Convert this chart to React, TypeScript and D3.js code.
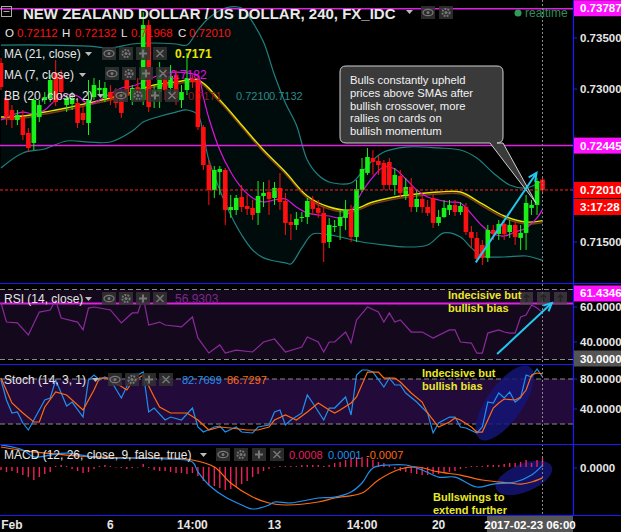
import React from 'react';
import * as d3 from 'd3';

// ---------- candle data (240-min NZD/USD) ----------
const opens = [0.73255,0.72912,0.72794,0.72696,0.72725,0.72569,0.72471,0.72725,0.72892,0.72912,
0.73157,0.73137,0.72843,0.72853,0.72863,0.72765,0.72667,0.72921,0.72990,0.72912,
0.72970,0.72970,0.72912,0.73088,0.72892,0.73019,0.72892,0.73627,0.72921,0.72970,
0.73117,0.73010,0.73137,0.72892,0.72990,0.73098,0.73088,0.72627,0.72255,0.72010,
0.72186,0.72206,0.71814,0.71814,0.71941,0.71853,0.71834,0.71785,0.71951,0.71990,
0.71932,0.72030,0.71902,0.71696,0.71667,0.71736,0.71745,0.71902,0.71834,0.71785,
0.71500,0.71647,0.71657,0.71736,0.71814,0.71549,0.72010,0.72177,0.72324,0.72294,
0.72275,0.72284,0.72059,0.72147,0.71961,0.72039,0.71843,0.71922,0.71843,0.71932,
0.71687,0.71745,0.71814,0.71863,0.71794,0.71843,0.71598,0.71540,0.71471,0.71344,
0.71618,0.71579,0.71677,0.71598,0.71667,0.71540,0.71589,0.71834,0.71863,0.72112];
const highs = [0.73304,0.72990,0.72843,0.72794,0.72794,0.72618,0.72912,0.72892,0.72970,0.73137,
0.73284,0.73186,0.72941,0.72970,0.72912,0.72843,0.73088,0.73108,0.73088,0.73068,
0.73039,0.73010,0.72990,0.73137,0.73039,0.73108,0.73754,0.73676,0.73039,0.73264,
0.73206,0.73235,0.73186,0.73039,0.73353,0.73137,0.73117,0.72647,0.72304,0.72245,
0.72245,0.72226,0.71961,0.71961,0.72059,0.71961,0.71912,0.72098,0.72088,0.72108,
0.72088,0.72177,0.71981,0.71775,0.71794,0.71794,0.71932,0.71951,0.71912,0.71853,
0.71736,0.71716,0.71814,0.71912,0.71863,0.72108,0.72324,0.72422,0.72402,0.72343,
0.72304,0.72324,0.72226,0.72206,0.72128,0.72128,0.72010,0.71961,0.71912,0.71961,
0.71814,0.71912,0.71912,0.71912,0.71892,0.71883,0.71657,0.71598,0.71520,0.71667,
0.71667,0.71716,0.71716,0.71716,0.71696,0.71667,0.71961,0.71912,0.72128,0.72132];
const lows = [0.72990,0.72647,0.72618,0.72647,0.72500,0.72382,0.72402,0.72676,0.72853,0.72872,
0.72833,0.72912,0.72774,0.72794,0.72618,0.72647,0.72549,0.72892,0.72941,0.72872,
0.72843,0.72814,0.72716,0.72892,0.72843,0.72912,0.72843,0.72774,0.72814,0.72814,
0.72892,0.72941,0.72843,0.72814,0.72941,0.73010,0.72598,0.72206,0.71863,0.71932,
0.71961,0.71667,0.71736,0.71765,0.71794,0.71765,0.71716,0.71667,0.71843,0.71765,
0.71863,0.71814,0.71569,0.71520,0.71618,0.71696,0.71677,0.71765,0.71736,0.71304,
0.71442,0.71598,0.71520,0.71618,0.71500,0.71500,0.71990,0.72157,0.72157,0.72157,
0.72010,0.72010,0.71961,0.71932,0.71912,0.71794,0.71794,0.71785,0.71755,0.71638,
0.71657,0.71736,0.71765,0.71755,0.71765,0.71569,0.71442,0.71304,0.71275,0.71304,
0.71520,0.71520,0.71520,0.71540,0.71471,0.71422,0.71422,0.71765,0.71765,0.71968];
const closes = [0.73019,0.72725,0.72696,0.72745,0.72549,0.72422,0.72892,0.72843,0.72921,0.73088,
0.72872,0.72970,0.72912,0.72912,0.72667,0.72696,0.72892,0.73039,0.73010,0.73010,
0.72912,0.72863,0.72765,0.72941,0.73010,0.72961,0.73627,0.72823,0.72990,0.73137,
0.72990,0.73127,0.72912,0.72970,0.73108,0.73068,0.72627,0.72255,0.72010,0.72206,
0.72216,0.71814,0.71843,0.71932,0.71843,0.71824,0.71765,0.71951,0.71981,0.71922,
0.72030,0.71892,0.71687,0.71667,0.71726,0.71745,0.71902,0.71824,0.71785,0.71491,
0.71667,0.71657,0.71745,0.71814,0.71549,0.72020,0.72216,0.72333,0.72284,0.72255,
0.72059,0.72059,0.72157,0.71981,0.72039,0.71843,0.71922,0.71843,0.71785,0.71687,
0.71745,0.71834,0.71863,0.71794,0.71853,0.71598,0.71540,0.71334,0.71344,0.71618,
0.71579,0.71677,0.71579,0.71667,0.71549,0.71589,0.71883,0.71863,0.72098,0.72010];

// ---------- overlays (candle index, value) ----------
const ma21Idx = [0,4,8,12,16,20,24,28,32,36,40,44,48,52,56,60,64,68,72,76,80,84,88,92,96,99];
const ma21Val = [0.72725,0.72735,0.72774,0.72814,0.72863,0.72912,0.72970,0.73039,0.73068,0.73088,0.72892,0.72647,0.72402,0.72186,0.71951,0.71843,0.71814,0.71892,0.71941,0.71971,0.71990,0.71990,0.71873,0.71755,0.71696,0.71710];
const ma7Idx = [0,2,4,6,8,10,12,14,16,18,20,22,24,26,28,30,32,34,36,37,38,40,42,44,46,48,50,52,54,56,58,60,62,64,66,68,70,72,74,76,78,80,82,84,86,88,90,92,94,96,98,99];
const ma7Val = [0.72696,0.72745,0.72774,0.72755,0.72794,0.72892,0.72941,0.72931,0.72853,0.72892,0.72951,0.73010,0.73029,0.73068,0.73117,0.73157,0.73166,0.73157,0.73127,0.72921,0.72716,0.72402,0.72186,0.72030,0.71932,0.71892,0.71912,0.71922,0.71843,0.71785,0.71765,0.71755,0.71736,0.71804,0.71990,0.72137,0.72235,0.72216,0.72118,0.72010,0.71941,0.71912,0.71892,0.71883,0.71775,0.71657,0.71579,0.71559,0.71598,0.71638,0.71736,0.71820];
const bbUpIdx = [0,8,16,20,24,28,32,34,36,38,41,44,46,48,50,52,54,56,58,60,64,66,68,70,74,80,84,87,90,93,96,99];
const bbUpVal = [0.73431,0.73431,0.73421,0.73402,0.73441,0.73451,0.73441,0.73431,0.73578,0.73696,0.73794,0.73794,0.73656,0.73460,0.73137,0.72863,0.72647,0.72304,0.72157,0.72088,0.72079,0.72186,0.72304,0.72382,0.72431,0.72422,0.72402,0.72324,0.72177,0.72059,0.72030,0.72100];
const bbLoIdx = [0,4,8,12,16,20,24,26,28,32,34,36,37,38,40,42,44,46,48,50,52,53,55,57,60,62,66,70,74,78,81,84,86,88,92,96,99];
const bbLoVal = [0.72226,0.72373,0.72412,0.72490,0.72480,0.72480,0.72588,0.72676,0.72716,0.72774,0.72794,0.72745,0.72549,0.72304,0.72010,0.71765,0.71569,0.71422,0.71344,0.71314,0.71295,0.71285,0.71442,0.71579,0.71569,0.71549,0.71500,0.71471,0.71451,0.71471,0.71589,0.71549,0.71442,0.71363,0.71353,0.71363,0.71320];

// ---------- RSI (14) ----------
const rsiIdx = [0,1,3,5,7,9,10,11,14,15,16,17,20,22,24,25,26,27,29,30,33,35,36,38,40,41,43,46,48,50,52,55,56,58,59,60,61,63,64,65,67,69,70,71,72,73,75,77,79,82,83,84,86,87,88,89,91,92,93,94,95,96,97,98,99];
const rsiVal = [62.3,51.4,50.9,44.0,57.1,58.3,64.0,53.7,51.4,46.9,59.4,60.0,58.3,50.9,56.6,56.6,65.7,49.7,51.4,49.7,48.6,54.3,42.3,33.7,38.3,33.7,35.4,34.3,40.0,41.7,34.3,37.1,42.9,40.0,34.3,40.0,40.0,45.7,39.4,52.6,60.0,57.1,51.4,56.6,51.4,52.6,45.7,45.7,42.3,46.9,46.9,40.0,39.4,33.7,33.7,45.1,46.9,45.7,45.1,45.1,54.3,55.4,61.1,59.4,56.93];

// ---------- Stochastic (14,3,1) ----------
const stochKIdx = [0,1,2,3,4,5,6,8,9,10,11,12,13,15,16,17,18,19,20,22,24,25,26,27,28,30,31,33,35,36,37,39,40,41,43,44,46,47,49,50,51,52,53,55,56,57,59,60,61,63,64,65,66,67,68,70,71,72,73,74,76,78,79,80,82,83,84,85,87,88,89,90,91,92,93,94,95,96,97,98,99];
const stochKVal = [78.7,52,34.7,36,21.3,12,25.3,52,54.7,78.7,61.3,44,49.3,29.3,78.7,85.3,78.7,82.7,78.7,54.7,85.3,85.3,89.3,36,41.3,25.3,29.3,25.3,41.3,16,9.3,16,17.3,9.3,16,9.3,8,16,18.7,36,38.7,18.7,25.3,34.7,58.7,48,25.3,41.3,41.3,56,32,85.3,92,92,89.3,69.3,81.3,72,72,61.3,49.3,34.7,8,21.3,29.3,29.3,16,14.7,8,16,49.3,48,61.3,54.7,62.7,49.3,54.7,85.3,82.7,93.3,82.77];
const stochDIdx = [0,2,4,6,7,8,10,12,14,15,17,18,20,21,23,24,26,28,29,31,34,36,38,40,42,45,47,49,50,52,54,56,58,60,61,62,64,65,67,69,70,72,73,75,77,78,80,82,83,84,86,87,88,89,90,91,92,94,95,96,97,98,99];
const stochDVal = [81.3,48,34.7,22.7,22.7,42.7,62.7,58.7,45.3,38.7,65.3,81.3,81.3,74.7,65.3,76,85.3,56,42.7,34.7,34.7,25.3,12,16,14.7,12,12,16,25.3,32,25.3,36,48,38.7,34.7,38.7,48,56,89.3,89.3,81.3,81.3,76,61.3,49.3,34.7,16,22.7,28,25.3,16,9.3,9.3,25.3,41.3,48,53.3,52,56,65.3,85.3,88,86.73];

// ---------- MACD (12,26,9) ----------
const macdHist = [-0.00019,-0.00032,-0.00026,-0.00039,-0.00052,-0.00065,-0.00084,-0.00065,-0.00045,-0.00032,
0.00006,0.00013,0.00006,-0.00013,-0.00026,-0.00039,-0.00032,-0.00013,0.00006,0.00013,
0.00006,-0.00003,-0.00006,-0.00013,-0.00006,-0.00003,0.00019,-0.00006,-0.00019,-0.00026,
-0.00026,-0.00032,-0.00039,-0.00039,-0.00045,-0.00039,-0.00058,-0.0009,-0.00116,-0.00123,
-0.00135,-0.00148,-0.00142,-0.00129,-0.0011,-0.0009,-0.00065,-0.00045,-0.00026,-0.00013,
-0.00003,0.00006,0.00006,0.00006,0.00006,0.00013,0.00013,0.00013,0.00013,0.00006,
0.00013,0.00026,0.00032,0.00045,0.00058,0.00065,0.00065,0.00058,0.00045,0.00032,
0.00026,0.00013,-0.00013,-0.00026,-0.00032,-0.00039,-0.00045,-0.00052,-0.00052,-0.00045,
-0.00045,-0.00039,-0.00032,-0.00026,-0.00013,-0.00006,0.00006,0.00006,0.00006,0.00013,
0.00013,0.00013,0.00019,0.00026,0.00026,0.00032,0.00045,0.00026,0.00045,0.0006];
const macdIdx = [0,4,6,9,12,18,24,30,35,36,38,41,44,46,49,50,53,56,58,61,64,66,68,71,74,77,80,83,87,90,94,97,99];
const macdVal = [0.00142,0.0011,0.00065,0.00077,0.0009,0.00058,0.00058,0.00052,0.00032,-0.00032,-0.00116,-0.00194,-0.00245,-0.00271,-0.00245,-0.00226,-0.00232,-0.00213,-0.002,-0.00194,-0.00161,-0.00103,-0.00006,0.00013,0.00013,-0.00019,-0.00065,-0.00065,-0.00129,-0.0011,-0.00097,-0.00052,0.0001];
const signalIdx = [0,6,12,18,24,30,35,39,42,46,49,52,58,61,66,69,73,76,80,84,88,93,95,97,99];
const signalVal = [0.00129,0.00097,0.00077,0.00065,0.00058,0.00058,0.00045,0,-0.00103,-0.00194,-0.00232,-0.00245,-0.00226,-0.002,-0.00168,-0.00084,-0.00013,0,-0.00032,-0.00052,-0.00084,-0.00103,-0.0011,-0.00097,-0.0007];

// ---------- axes ----------
const priceTicks = [0.735, 0.73, 0.715];
const rsiTicks = [60, 40];
const stochTicks = [80, 40];
const macdTicks = [0];
const timeIdx = [2, 20, 35, 50, 66, 80];
const timeLabels = ['Feb', '6', '14:00', '13', '14:00', '20'];
const lastTimeLabel = '2017-02-23 06:00';
const levelLines = [0.73787, 0.72445];
const rsiLevel = 61.4346;

const calloutLines = ['Bulls constantly upheld', 'prices above SMAs after', 'bullish crossover, more', 'rallies on cards on', 'bullish momentum'];

const FONT = 'Liberation Sans, Arial, sans-serif';
const GREEN = '#18f018';
const RED = '#ff1010';
const BLUE_SEP = '#1a1aff';

const Icon = ({ x, y, kind }: { x: number; y: number; kind: string }) => (
  <g transform={`translate(${x},${y})`}>
    <rect width={14} height={13} fill="#333" opacity={0.85} />
    {kind === 'eye' && (<><ellipse cx={7} cy={6.5} rx={5} ry={3.2} fill="none" stroke="#777" strokeWidth={1.3} /><circle cx={7} cy={6.5} r={1.5} fill="#777" /></>)}
    {kind === 'gear' && (<><circle cx={7} cy={6.5} r={3.6} fill="none" stroke="#777" strokeWidth={2} strokeDasharray="1.8 1.2" /><circle cx={7} cy={6.5} r={1.6} fill="#777" /></>)}
    {kind === 'plus' && <path d="M7 2.5V10.5M3 6.5H11" stroke="#777" strokeWidth={2} />}
    {kind === 'x' && <path d="M3.5 3L10.5 10M10.5 3L3.5 10" stroke="#777" strokeWidth={1.5} />}
  </g>
);

const Caret = ({ x, y }: { x: number; y: number }) => (
  <path d={`M${x} ${y}L${x + 7} ${y}L${x + 3.5} ${y + 4}Z`} fill="#bbb" />
);

export default function App() {
  const n = closes.length;
  const x = d3.scaleLinear().domain([0, n - 1]).range([1, 542.5]);
  const yP = d3.scaleLinear().domain([0.715, 0.735]).range([242, 38]);
  const yR = d3.scaleLinear().domain([40, 60]).range([342, 307]);
  const yS = d3.scaleLinear().domain([20, 80]).range([424, 379]);
  const yM = d3.scaleLinear().domain([0, 0.001]).range([467, 451.5]);

  const smooth = (idx: number[], vals: number[], ys: (v: number) => number) =>
    d3.line<number>().x((_, i) => x(idx[i])).y((v) => ys(v)).curve(d3.curveCatmullRom.alpha(0.5))(vals) || '';
  const straight = (idx: number[], vals: number[], ys: (v: number) => number) =>
    d3.line<number>().x((_, i) => x(idx[i])).y((v) => ys(v))(vals) || '';

  const upPath = smooth(bbUpIdx, bbUpVal, yP);
  const loPts: [number, number][] = bbLoIdx.map((k, i) => [x(k), yP(bbLoVal[i])] as [number, number]).reverse();
  const loRev = d3.line().curve(d3.curveCatmullRom.alpha(0.5))(loPts) || '';
  const bbFill = upPath + 'L' + loRev.slice(1) + 'Z';

  const lastX = x(n - 1);
  const cur = closes[n - 1];

  const axisLabel = (y: number, txt: string, key: string) => (
    <g key={key}>
      <line x1={573} x2={577} y1={y} y2={y} stroke={BLUE_SEP} />
      <text x={580} y={y + 4} fill="#e6e6e6" fontSize={11.5} fontWeight="bold">{txt}</text>
    </g>
  );
  const boxLabel = (y: number, txt: string, fill: string, key: string) => (
    <g key={key}>
      <rect x={574} y={y - 8} width={47} height={16} fill={fill} />
      <text x={580} y={y + 4} fill="#fff" fontSize={11.5} fontWeight="bold">{txt}</text>
    </g>
  );

  // annotation anchors (data coords)
  const arrowMain = { x1: x(86.8), y1: yP(0.7130), x2: x(97.9), y2: yP(0.72177) };
  const arrowRsi = { x1: x(90.7), y1: yR(33.1), x2: x(100.7), y2: yR(62.3) };
  const arrowHead = (a: { x1: number; y1: number; x2: number; y2: number }) => {
    const ang = Math.atan2(a.y2 - a.y1, a.x2 - a.x1);
    const L = 9;
    const p1 = [a.x2 - L * Math.cos(ang - 0.45), a.y2 - L * Math.sin(ang - 0.45)];
    const p2 = [a.x2 - L * Math.cos(ang + 0.45), a.y2 - L * Math.sin(ang + 0.45)];
    return `M${p1[0]},${p1[1]}L${a.x2},${a.y2}L${p2[0]},${p2[1]}`;
  };

  return (
    <svg width={621} height={532} style={{ position: 'fixed', left: 0, top: 0, background: '#000' }} fontFamily={FONT}>
      <defs>
        <clipPath id="cMain"><rect x={0} y={0} width={573} height={283} /></clipPath>
        <clipPath id="cRsi"><rect x={0} y={284} width={573} height={80} /></clipPath>
        <clipPath id="cSto"><rect x={0} y={365} width={573} height={79} /></clipPath>
        <clipPath id="cMacd"><rect x={0} y={445} width={573} height={70} /></clipPath>
      </defs>
      <rect width={621} height={532} fill="#000" />

      {/* ===== MAIN PANE ===== */}
      <g clipPath="url(#cMain)">
        <path d={bbFill} fill="rgba(0,150,150,0.08)" />
        <path d={upPath} fill="none" stroke="#1f8080" strokeWidth={1.2} />
        <path d={smooth(bbLoIdx, bbLoVal, yP)} fill="none" stroke="#1f8080" strokeWidth={1.2} />
        {levelLines.map((v) => (
          <line key={v} x1={0} x2={573} y1={yP(v)} y2={yP(v)} stroke="#e020e0" strokeWidth={1.5} />
        ))}
        <path d={smooth(ma21Idx, ma21Val, yP)} fill="none" stroke="#7a3a1a" strokeWidth={1.6} transform="translate(0,2)" />
        <path d={smooth(ma21Idx, ma21Val, yP)} fill="none" stroke="#e6e600" strokeWidth={1.4} />
        <path d={smooth(ma7Idx, ma7Val, yP)} fill="none" stroke="#e010e0" strokeWidth={1.2} />
        {closes.map((c, i) => {
          const o = opens[i];
          const up = c >= o;
          const col = up ? GREEN : RED;
          const yTop = yP(Math.max(o, c));
          const yBot = yP(Math.min(o, c));
          return (
            <g key={i}>
              <line x1={x(i)} x2={x(i)} y1={yP(highs[i])} y2={yP(lows[i])} stroke={col} strokeWidth={1} />
              <rect x={x(i) - 2.3} y={yTop} width={4.6} height={Math.max(1, yBot - yTop)} fill={col} />
            </g>
          );
        })}
        <line x1={0} x2={573} y1={yP(cur)} y2={yP(cur)} stroke="#ff2020" strokeDasharray="3 2" />
      </g>

      {/* ===== RSI PANE ===== */}
      <g clipPath="url(#cRsi)">
        <rect x={0} y={yR(70)} width={573} height={yR(30) - yR(70)} fill="#14091c" />
        <line x1={0} x2={573} y1={yR(70)} y2={yR(70)} stroke="#8a8a8a" strokeDasharray="5 3" />
        <line x1={0} x2={573} y1={yR(30)} y2={yR(30)} stroke="#8a8a8a" strokeDasharray="5 3" />
        <line x1={0} x2={573} y1={yR(rsiLevel) - 1} y2={yR(rsiLevel) - 1} stroke="#e020e0" strokeWidth={2} />
        <path d={straight(rsiIdx, rsiVal, yR)} fill="none" stroke="#8a2a9c" strokeWidth={1.2} />
      </g>

      {/* ===== STOCH PANE ===== */}
      <g clipPath="url(#cSto)">
        <rect x={0} y={yS(80)} width={573} height={yS(20) - yS(80)} fill="#220b3a" />
        <line x1={0} x2={573} y1={yS(80)} y2={yS(80)} stroke="#8a8a8a" strokeDasharray="5 3" />
        <line x1={0} x2={573} y1={yS(20)} y2={yS(20)} stroke="#8a8a8a" strokeDasharray="5 3" />
        <ellipse cx={x(92.1)} cy={yS(48)} rx={44} ry={18} transform={`rotate(-55 ${x(92.1)} ${yS(48)})`} fill="#151575" opacity={0.85} />
        <path d={straight(stochKIdx, stochKVal, yS)} fill="none" stroke="#2090f0" strokeWidth={1.2} />
        <path d={straight(stochDIdx, stochDVal, yS)} fill="none" stroke="#ff6a10" strokeWidth={1.2} />
      </g>

      {/* ===== MACD PANE ===== */}
      <g clipPath="url(#cMacd)">
        <ellipse cx={x(95.6)} cy={yM(-0.0007)} rx={30} ry={14} transform={`rotate(-22 ${x(95.6)} ${yM(-0.0007)})`} fill="#151575" opacity={0.85} />
        {macdHist.map((v, i) => (
          <line key={i} x1={x(i)} x2={x(i)} y1={yM(0)} y2={yM(v)} stroke="#f0205a" strokeWidth={1.4} />
        ))}
        <path d={smooth(signalIdx, signalVal, yM)} fill="none" stroke="#ff6a10" strokeWidth={1.2} />
        <path d={smooth(macdIdx, macdVal, yM)} fill="none" stroke="#2090f0" strokeWidth={1.2} />
      </g>

      {/* dotted last-bar marker */}
      <line x1={lastX} x2={lastX} y1={0} y2={516} stroke="#8a8a8a" strokeDasharray="2 2" />

      {/* pane separators */}
      {[283.5, 364.5, 444.5, 515.5].map((y) => (
        <line key={y} x1={0} x2={621} y1={y} y2={y} stroke={BLUE_SEP} strokeWidth={1.2} />
      ))}
      <line x1={573.5} x2={573.5} y1={0} y2={516} stroke={BLUE_SEP} strokeWidth={1.2} />

      {/* ===== right axis ===== */}
      {priceTicks.map((v) => axisLabel(yP(v), v.toFixed(5), 'p' + v))}
      {boxLabel(yP(levelLines[0]) - 0.5, levelLines[0].toFixed(5), '#ff10ff', 'l0')}
      {boxLabel(yP(levelLines[1]), levelLines[1].toFixed(5), '#ff10ff', 'l1')}
      {boxLabel(yP(cur), cur.toFixed(5), '#ff0000', 'cur')}
      {boxLabel(yP(cur) + 17, '3:17:28', '#ff0000', 'cd')}
      {rsiTicks.map((v) => axisLabel(yR(v), v.toFixed(4), 'r' + v))}
      {boxLabel(yR(rsiLevel) - 11, rsiLevel.toFixed(4), '#ff10ff', 'rl')}
      {boxLabel(yR(30) - 1, (30).toFixed(4), '#555', 'r30')}
      {stochTicks.map((v) => axisLabel(yS(v), v.toFixed(4), 's' + v))}
      {macdTicks.map((v) => axisLabel(yM(v) + 1, v.toFixed(4), 'm' + v))}

      {/* ===== time axis ===== */}
      {timeIdx.map((k, i) => (
        <text key={i} x={x(k)} y={529} fill="#e6e6e6" fontSize={12} fontWeight="bold" textAnchor="middle">{timeLabels[i]}</text>
      ))}
      <rect x={487} y={516} width={86} height={16} fill="#555" />
      <text x={530} y={529} fill="#fff" fontSize={11.5} fontWeight="bold" textAnchor="middle">{lastTimeLabel}</text>

      {/* ===== header / legends ===== */}
      <rect x={1.5} y={6.5} width={10} height={10} fill="none" stroke="#aaa" />
      <line x1={3.5} x2={9.5} y1={11.5} y2={11.5} stroke="#aaa" />
      <text x={23} y={19} fill="#e8e8e8" fontSize={15} fontWeight="bold">NEW ZEALAND DOLLAR / US DOLLAR, 240, FX_IDC</text>
      <Caret x={406} y={10} />
      <Icon x={421} y={6} kind="eye" />
      <Icon x={439} y={6} kind="gear" />
      <circle cx={518} cy={13} r={3.5} fill="#2e9d5a" />
      <text x={525} y={17} fill="#2e8b57" fontSize={12}>realtime</text>

      <g fontSize={11.5}>
        <text x={5} y={37} fill="#e6e6e6">O</text>
        <text x={17} y={37} fill={RED}>{opens[n - 1].toFixed(5)}</text>
        <text x={62} y={37} fill="#e6e6e6">H</text>
        <text x={75} y={37} fill={RED}>{highs[n - 1].toFixed(5)}</text>
        <text x={121} y={37} fill="#e6e6e6">L</text>
        <text x={131} y={37} fill={RED}>{lows[n - 1].toFixed(5)}</text>
        <text x={178} y={37} fill="#e6e6e6">C</text>
        <text x={189} y={37} fill={RED}>{closes[n - 1].toFixed(5)}</text>
      </g>

      <g fontSize={12}>
        <text x={4} y={58} fill="#e6e6e6">MA (21, close)</text>
        <Caret x={85} y={52} />
        <Icon x={102} y={47} kind="eye" /><Icon x={119} y={47} kind="gear" /><Icon x={136} y={47} kind="plus" /><Icon x={153} y={47} kind="x" />
        <text x={175} y={58} fill="#e6e600" fontWeight="bold">0.7171</text>

        <text x={4} y={79} fill="#e6e6e6">MA (7, close)</text>
        <Caret x={79} y={73} />
        <Icon x={105} y={67} kind="eye" /><Icon x={122} y={67} kind="gear" /><Icon x={139} y={67} kind="plus" /><Icon x={156} y={67} kind="x" />
        <text x={170} y={79} fill="#e010e0">0.7182</text>

        <text x={4} y={100} fill="#e6e6e6">BB (20, close, 2)</text>
        <Caret x={97} y={94} />
        <Icon x={114} y={89} kind="eye" /><Icon x={131} y={89} kind="gear" /><Icon x={148} y={89} kind="plus" /><Icon x={165} y={89} kind="x" />
        <text x={188} y={100} fill="#8b1c1c" fontSize={11}>0.7171</text>
        <text x={236} y={100} fill="#2a8a8a" fontSize={11}>0.7210</text>
        <text x={269} y={100} fill="#2a8a8a" fontSize={11}>0.7132</text>

        <text x={4} y={303} fill="#e6e6e6">RSI (14, close)</text>
        <Caret x={85} y={297} />
        <Icon x={102} y={292} kind="eye" /><Icon x={119} y={292} kind="gear" /><Icon x={136} y={292} kind="plus" /><Icon x={153} y={292} kind="x" />
        <text x={175} y={303} fill="#7b2a8b">56.9303</text>

        <text x={4} y={384} fill="#e6e6e6">Stoch (14, 3, 1)</text>
        <Caret x={92} y={378} />
        <Icon x={108} y={373} kind="eye" /><Icon x={125} y={373} kind="gear" /><Icon x={142} y={373} kind="plus" /><Icon x={159} y={373} kind="x" />
        <text x={182} y={384} fill="#2090f0" fontSize={11}>82.7699</text>
        <text x={227} y={384} fill="#ff6a10" fontSize={11}>86.7297</text>

        <text x={4} y={459} fill="#e6e6e6">MACD (12, 26, close, 9, false, true)</text>
        <Caret x={200} y={453} />
        <Icon x={216} y={448} kind="eye" /><Icon x={234} y={448} kind="gear" /><Icon x={252} y={448} kind="plus" /><Icon x={270} y={448} kind="x" />
        <text x={289} y={459} fill="#e91e63" fontSize={11}>0.0008</text>
        <text x={328} y={459} fill="#2090f0" fontSize={11}>0.0001</text>
        <text x={366} y={459} fill="#ff6a10" fontSize={11}>-0.0007</text>
      </g>

      {/* RSI pane buttons */}
      {[520, 537, 554].map((bx) => (
        <g key={bx}>
          <rect x={bx} y={292} width={13} height={13} fill="#444" opacity={0.7} />
          <path d={`M${bx + 6.5} ${295}L${bx + 6.5} ${302}M${bx + 4} ${297.5}L${bx + 6.5} ${295}L${bx + 9} ${297.5}`} stroke="#222" strokeWidth={1.5} fill="none" />
        </g>
      ))}

      {/* ===== annotations ===== */}
      <path d="M346 66H497Q503 66 503 72V137Q503 143 497 143H503L536 203L490 143H346Q340 143 340 137V72Q340 66 346 66Z" fill="#3a3a3a" stroke="#d0d0d0" strokeWidth={1} />
      <g fontSize={11.3} fill="#f2f2f2">
        {calloutLines.map((t, i) => (
          <text key={i} x={350} y={84 + i * 12.8}>{t}</text>
        ))}
      </g>

      <line x1={arrowMain.x1} y1={arrowMain.y1} x2={arrowMain.x2} y2={arrowMain.y2} stroke="#22c8f0" strokeWidth={2} />
      <path d={arrowHead(arrowMain)} stroke="#22c8f0" strokeWidth={2} fill="none" />
      <line x1={arrowRsi.x1} y1={arrowRsi.y1} x2={arrowRsi.x2} y2={arrowRsi.y2} stroke="#22c8f0" strokeWidth={2} />
      <path d={arrowHead(arrowRsi)} stroke="#22c8f0" strokeWidth={2} fill="none" />

      <g fontSize={11} fontWeight="bold" fill="#e8e82a">
        <text x={448} y={299}>Indecisive but</text>
        <text x={448} y={311.5}>bullish bias</text>
        <text x={422} y={377}>Indecisive but</text>
        <text x={422} y={389.5}>bullish bias</text>
        <text x={433} y={501}>Bullswings to</text>
        <text x={433} y={513.5}>extend further</text>
      </g>
    </svg>
  );
}
